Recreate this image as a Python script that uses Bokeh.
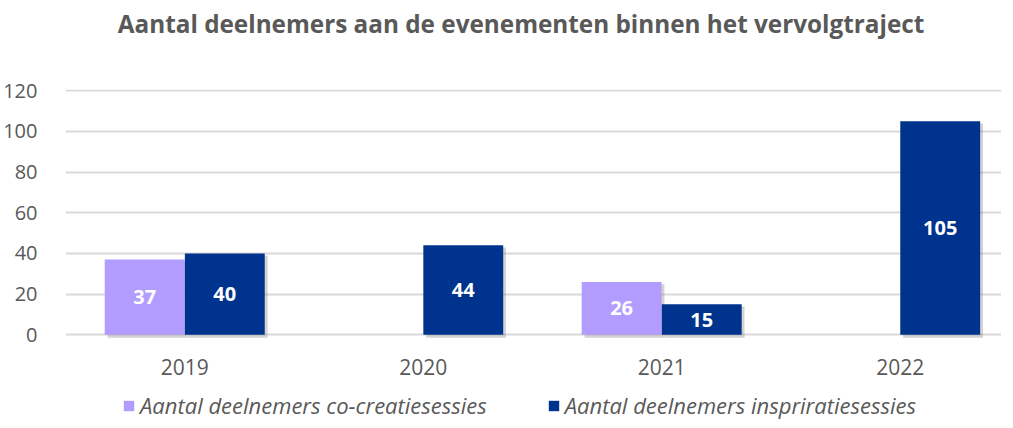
import numpy as np
from bokeh.plotting import figure
from bokeh.layouts import column
from bokeh.models import Range1d, Legend, LegendItem, ColumnDataSource, FixedTicker, Label
from bokeh.core.properties import value
from bokeh.embed import file_html
from bokeh.resources import INLINE

years = ["2019", "2020", "2021", "2022"]
co_creatie = [37, np.nan, 26, np.nan]
inspiratie = [40, 44, 15, 105]
series_names = ["Aantal deelnemers co-creatiesessies", "Aantal deelnemers inspriratiesessies"]
y_ticks = [0, 20, 40, 60, 80, 100, 120]
title_text = "Aantal deelnemers aan de evenementen binnen het vervolgtraject"

PURPLE = "#B39CFF"
BLUE = "#00338D"
GREY = "#595959"
FONT = "Open Sans"
W = 1001
LEFT = 64

x = np.arange(len(years), dtype=float)
off = 0.168
bw = 0.335

# ---------- title strip ----------
tf = figure(width=W, height=66, x_range=Range1d(0, 1), y_range=Range1d(0, 1),
            x_axis_location=None, y_axis_location=None, min_border=0,
            min_border_left=LEFT, min_border_right=0,
            output_backend="svg", toolbar_location=None)
tf.outline_line_color = None
tf.grid.visible = False
tf.add_layout(Label(x=0.4867, y=0.65, text=title_text, text_align="center",
                    text_baseline="middle", text_font=FONT, text_font_style="bold",
                    text_font_size="24.3px", text_color=GREY))

# ---------- main chart ----------
p = figure(width=W, height=316, min_border_left=LEFT, min_border_right=0,
           min_border_top=23, min_border_bottom=44,
           x_range=Range1d(-0.5, 3.425), y_range=Range1d(-1.8, 120.6),
           output_backend="svg", toolbar_location=None)
p.outline_line_color = None

for xs, vals in [(x - off, co_creatie), (x + off, inspiratie)]:
    v = np.array(vals, dtype=float)
    src = ColumnDataSource(dict(x=xs + 0.012, top=v - 1.1, bottom=np.full(len(v), -1.4)))
    p.vbar(x="x", top="top", bottom="bottom", width=bw, source=src,
           fill_color="#808080", fill_alpha=0.35, line_color=None)

src1 = ColumnDataSource(dict(x=x - off, top=np.array(co_creatie, dtype=float)))
src2 = ColumnDataSource(dict(x=x + off, top=np.array(inspiratie, dtype=float)))
p.vbar(x="x", top="top", bottom=0, width=bw, source=src1, fill_color=PURPLE, line_color=None)
p.vbar(x="x", top="top", bottom=0, width=bw, source=src2, fill_color=BLUE, line_color=None)

for xs, vals in [(x - off, co_creatie), (x + off, inspiratie)]:
    v = np.array(vals, dtype=float)
    m = ~np.isnan(v)
    lsrc = ColumnDataSource(dict(x=xs[m], y=v[m] / 2, t=[str(int(a)) for a in v[m]]))
    p.text(x="x", y="y", text="t", source=lsrc, text_color="white",
           text_font=value(FONT), text_font_style="bold", text_font_size="20px",
           text_align="center", text_baseline="middle")

p.xaxis.ticker = FixedTicker(ticks=list(x))
p.xaxis.major_label_overrides = {int(i): y for i, y in zip(range(len(years)), years)}
p.xaxis.axis_line_color = None
p.xaxis.major_tick_line_color = None
p.xaxis.minor_tick_line_color = None
p.xaxis.major_label_standoff = 14
p.xaxis.major_label_text_font = FONT
p.xaxis.major_label_text_font_size = "21px"
p.xaxis.major_label_text_color = GREY

p.yaxis.ticker = FixedTicker(ticks=y_ticks)
p.yaxis.axis_line_color = None
p.yaxis.major_tick_line_color = None
p.yaxis.minor_tick_line_color = None
p.yaxis.major_label_standoff = 22
p.yaxis.major_label_text_font = FONT
p.yaxis.major_label_text_font_size = "20px"
p.yaxis.major_label_text_color = GREY

p.xgrid.grid_line_color = None
p.ygrid.grid_line_color = "#D9D9D9"
p.ygrid.grid_line_width = 2

# ---------- legend strip ----------
lf = figure(width=W, height=38, x_range=Range1d(-0.5, 3.425), y_range=Range1d(0, 1),
            x_axis_location=None, y_axis_location=None, min_border=0,
            min_border_left=LEFT, min_border_right=0,
            output_backend="svg", toolbar_location=None)
lf.outline_line_color = None
lf.grid.visible = False
l1 = lf.vbar(x="x", top="top", bottom=0, width=bw, source=src1, fill_color=PURPLE,
             line_color=None, visible=False)
l2 = lf.vbar(x="x", top="top", bottom=0, width=bw, source=src2, fill_color=BLUE,
             line_color=None, visible=False)
legend = Legend(items=[LegendItem(label=series_names[0], renderers=[l1]),
                       LegendItem(label=series_names[1], renderers=[l2])],
                orientation="horizontal", location=(57, 0),
                label_text_font=FONT, label_text_font_style="italic",
                label_text_font_size="22px", label_text_color=GREY,
                glyph_width=13, glyph_height=13, label_standoff=5, spacing=60,
                padding=0, margin=0, border_line_color=None,
                background_fill_alpha=0, inactive_fill_alpha=0)
lf.add_layout(legend, "center")

layout = column(tf, p, lf, spacing=0)
open("out.html", "w").write(file_html(layout, INLINE))
